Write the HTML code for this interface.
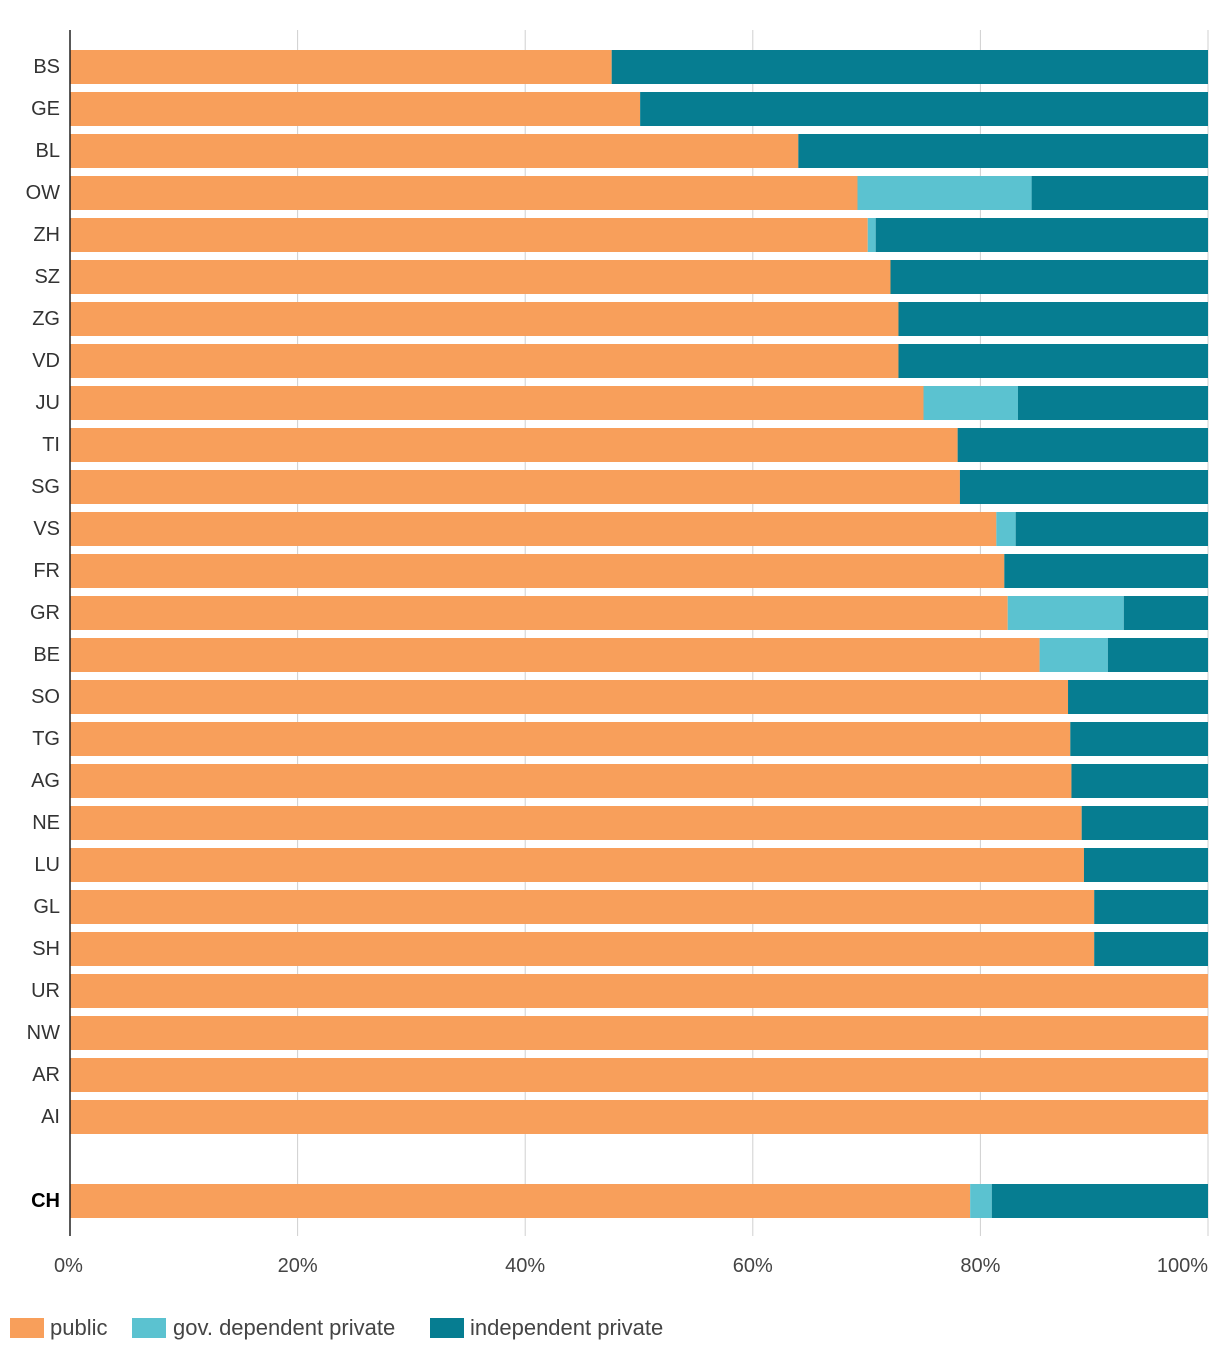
<!DOCTYPE html>
<html><head><meta charset="utf-8">
<style>
body{margin:0;background:#fff;font-family:"Liberation Sans",sans-serif;}
svg text{font-family:"Liberation Sans",sans-serif;}
</style></head>
<body>
<svg id="chart" width="1220" height="1360" xmlns="http://www.w3.org/2000/svg"></svg>
<script>
const categories=["BS","GE","BL","OW","ZH","SZ","ZG","VD","JU","TI","SG","VS","FR","GR","BE","SO","TG","AG","NE","LU","GL","SH","UR","NW","AR","AI","CH"];
const publicVals=[47.6,50.1,64.0,69.2,70.1,72.1,72.8,72.8,75.0,78.0,78.2,81.4,82.1,82.4,85.2,87.7,87.9,88.0,88.9,89.1,90.0,90.0,100,100,100,100,79.1];
const govVals=[0,0,0,15.3,0.7,0,0,0,8.3,0,0,1.7,0,10.2,6.0,0,0,0,0,0,0,0,0,0,0,0,1.9];
const tickVals=[0,20,40,60,80,100];
const tickLabels=["0%","20%","40%","60%","80%","100%"];
const colors={pub:"#F89F5B",gov:"#5BC2D0",ind:"#067D91"};
const svg=document.getElementById('chart');
const NS="http://www.w3.org/2000/svg";
const x=v=>70+v*11.38;
const y=i=>(i<26?67+i*42:1201);
function mk(t,a){const e=document.createElementNS(NS,t);for(const k in a)e.setAttribute(k,a[k]);svg.appendChild(e);return e;}
tickVals.forEach((t,i)=>{
 if(t>0){const g=mk('line',{x1:x(t),x2:x(t),y1:30,y2:1236,stroke:'#d0d0d0','stroke-width':1});
 
 }
 const anchor=i===tickVals.length-1?'end':(i===0?'start':'middle');
 const tx=mk('text',{x:i===0?54:(i===tickVals.length-1?x(t):x(t)),y:1272,'font-size':20,fill:'#444','text-anchor':anchor});
 tx.textContent=tickLabels[i];
 
 
});
categories.forEach((c,i)=>{
 const cy=y(i),top=cy-17,h=34;
 const p=publicVals[i],g=govVals[i],ind=Math.max(0,100-p-g);
 const segs=[[0,p,colors.pub,'bar-public'],[p,g,colors.gov,'bar-gov-dependent'],[p+g,ind,colors.ind,'bar-independent']];
 segs.forEach(s=>{if(s[1]<=0)return;
  const r=mk('rect',{x:x(s[0]),y:top,width:x(s[0]+s[1])-x(s[0]),height:h,fill:s[2]});
  
  });
 const l=mk('text',{x:60,y:cy+6,'font-size':20,fill:c==='CH'?'#000':'#333','text-anchor':'end','font-weight':c==='CH'?'bold':'normal'});
 l.textContent=c;
 
 
});
const ax=mk('line',{x1:70,x2:70,y1:30,y2:1236,stroke:'#222','stroke-width':1.5});


const legend=[["public",colors.pub,10,50],["gov. dependent private",colors.gov,132,173],["independent private",colors.ind,430,470]];
legend.forEach(L=>{
 const r=mk('rect',{x:L[2],y:1318,width:34,height:20,fill:L[1]});
 
 
 const t=mk('text',{x:L[3],y:1335,'font-size':22,fill:'#444'});
 t.textContent=L[0];
 
 
});
</script>
</body></html>
